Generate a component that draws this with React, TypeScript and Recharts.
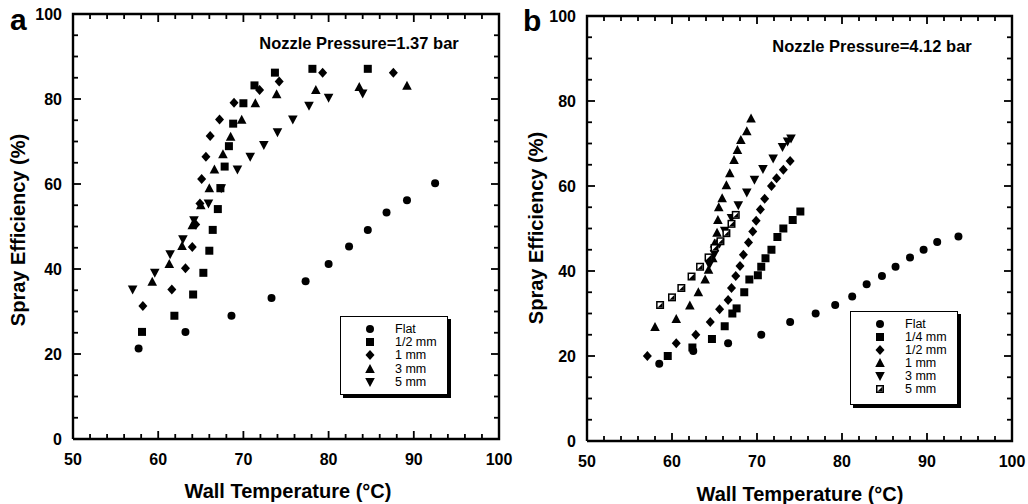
import React from 'react'
import { ScatterChart, Scatter, XAxis, YAxis } from 'recharts'

const FONT = '"Liberation Sans", Arial, Helvetica, sans-serif'

const xTicks = [50, 52, 54, 56, 58, 60, 62, 64, 66, 68, 70, 72, 74, 76, 78, 80, 82, 84, 86, 88, 90, 92, 94, 96, 98, 100]
const yTicks = [0, 5, 10, 15, 20, 25, 30, 35, 40, 45, 50, 55, 60, 65, 70, 75, 80, 85, 90, 95, 100]

// panel a: nozzle pressure 1.37 bar  [wall temp, spray efficiency]
const aFlat = [[57.7, 21.3], [63.2, 25.2], [68.6, 29], [73.3, 33.2], [77.3, 37.1], [80, 41.2], [82.4, 45.3], [84.6, 49.2], [86.8, 53.3], [89.2, 56.2], [92.5, 60.2]]
const aHalf = [[58.1, 25.2], [61.9, 29], [64.1, 34], [65.3, 39.1], [66.0, 44.3], [66.4, 49.2], [67.0, 54.1], [67.3, 59], [67.8, 64.1], [68.3, 68.9], [68.8, 74.2], [70.0, 79], [71.3, 83.2], [73.7, 86.2], [78.1, 87.1], [84.6, 87.1]]
const aOne = [[58.2, 31.3], [61.6, 35.2], [63.2, 40.2], [64.0, 45.2], [64.4, 50.5], [64.9, 55.4], [65.1, 61.2], [65.6, 66.4], [66.1, 71.3], [67.2, 75.2], [68.9, 79.1], [71.9, 82.1], [74.2, 84.1], [79.3, 86.2], [87.6, 86.2]]
const aThree = [[59.3, 37], [61.3, 41.2], [62.8, 45.4], [64.0, 50.3], [65.0, 55], [66.0, 59], [66.6, 63.4], [67.6, 67], [68.5, 71.1], [69.8, 75.1], [71.4, 79], [73.9, 81.1], [78.5, 82.1], [83.6, 82.8], [89.2, 83.1]]
const aFive = [[57.0, 35.2], [59.6, 39.1], [61.4, 43.5], [62.9, 47], [64.2, 51.5], [65.9, 55.4], [67.4, 59], [69.3, 63.4], [70.8, 66.4], [72.4, 69.2], [74.0, 72.2], [75.8, 75.2], [77.7, 78.4], [80.0, 80.3], [84.0, 81.3]]

// panel b: nozzle pressure 4.12 bar
const bFlat = [[58.5, 18.2], [62.5, 21.2], [66.6, 23], [70.5, 25], [73.9, 28], [76.9, 30], [79.2, 32], [81.2, 34], [82.9, 36.9], [84.7, 38.8], [86.3, 41], [88, 43.2], [89.6, 45], [91.2, 46.8], [93.7, 48.1]]
const bQuarter = [[59.5, 20], [62.4, 22], [64.7, 24], [66.2, 27], [67.1, 30], [67.6, 31.2], [68.5, 35], [69.1, 38], [70.1, 39], [70.5, 41], [71.0, 43], [71.7, 45], [72.4, 48], [73.1, 50], [74.2, 52], [75.1, 54]]
const bHalf = [[57.1, 20], [60.5, 23], [62.8, 25], [64.5, 28], [65.6, 31], [66.6, 33.2], [67.0, 36], [67.5, 38.8], [68.0, 41.2], [68.4, 43.8], [69.0, 46.7], [69.5, 49.3], [69.9, 51.8], [70.4, 54.5], [70.9, 57], [71.7, 60], [72.3, 61.8], [73.1, 63.8], [73.9, 65.9]]
const bOne = [[58.0, 26.8], [60.5, 28.7], [62.1, 31.9], [63.1, 35], [63.9, 38], [64.3, 40.3], [64.8, 43], [65.0, 46.5], [65.3, 49], [65.4, 52], [65.5, 55], [65.9, 57.1], [66.4, 60.2], [66.8, 63], [67.3, 66.1], [67.7, 68.5], [68.1, 70.8], [68.8, 72.9], [69.3, 75.9]]
const bThree = [[64.4, 41.5], [65.0, 44], [65.6, 46.5], [66.2, 49.5], [67.0, 52.5], [67.8, 55.5], [68.8, 58.5], [69.7, 61.5], [70.7, 64], [71.9, 66.5], [73.0, 69.2], [73.6, 70.5], [74.0, 71.2]]
const bFive = [[58.6, 32], [60.0, 33.8], [61.1, 36], [62.3, 38.7], [63.3, 41], [64.3, 43.2], [65.0, 45.4], [65.7, 47], [66.4, 48.9], [67.0, 51.1], [67.5, 53.2]]

const toPts = (arr: number[][]) => arr.map(([x, y]) => ({ x, y }))

// frame corners and tick anchors (axis furniture, placed through the chart scales)
const frameCorners = [{ x: 50, y: 0 }, { x: 100, y: 0 }, { x: 100, y: 100 }, { x: 50, y: 100 }, { x: 50, y: 0 }]
const bottomTicks = xTicks.map((v) => ({ x: v, y: 0 }))
const topTicks = xTicks.map((v) => ({ x: v, y: 100 }))
const leftTicks = yTicks.map((v) => ({ x: 50, y: v }))
const rightTicks = yTicks.map((v) => ({ x: 100, y: v }))

// marker shapes
const Dot = ({ cx, cy }: any) => <circle cx={cx} cy={cy} r={4} fill="#000" />
const Sq = ({ cx, cy }: any) => <rect x={cx - 4} y={cy - 4} width={8} height={8} fill="#000" />
const Dia = ({ cx, cy }: any) => (
    <polygon points={`${cx},${cy - 5} ${cx + 4.5},${cy} ${cx},${cy + 5} ${cx - 4.5},${cy}`} fill="#000" />
)
const TriUp = ({ cx, cy }: any) => (
    <polygon points={`${cx},${cy - 5} ${cx + 4.8},${cy + 4} ${cx - 4.8},${cy + 4}`} fill="#000" />
)
const TriDown = ({ cx, cy }: any) => (
    <polygon points={`${cx - 4.8},${cy - 4} ${cx + 4.8},${cy - 4} ${cx},${cy + 5}`} fill="#000" />
)
const HalfSq = ({ cx, cy }: any) => (
    <g>
        <rect x={cx - 4} y={cy - 4} width={8} height={8} fill="#000" />
        <rect x={cx - 2.5} y={cy - 2.5} width={5} height={5} fill="#fff" />
        <polygon points={`${cx + 2.5},${cy - 2.5} ${cx + 2.5},${cy + 2.5} ${cx - 2.5},${cy + 2.5}`} fill="#000" />
    </g>
)

// inward tick marks
const TW = 1.8
const tickLenX = (p: any) => (p.x % 10 === 0 ? 8 : 5)
const tickLenY = (p: any) => (p.y % 20 === 0 ? 8 : 5)
const BottomMark = ({ cx, cy, payload }: any) => <rect x={cx - TW / 2} y={cy - tickLenX(payload)} width={TW} height={tickLenX(payload)} fill="#000" />
const TopMark = ({ cx, cy, payload }: any) => <rect x={cx - TW / 2} y={cy} width={TW} height={tickLenX(payload)} fill="#000" />
const LeftMark = ({ cx, cy, payload }: any) => <rect x={cx} y={cy - TW / 2} width={tickLenY(payload)} height={TW} fill="#000" />
const RightMark = ({ cx, cy, payload }: any) => <rect x={cx - tickLenY(payload)} y={cy - TW / 2} width={tickLenY(payload)} height={TW} fill="#000" />
const NoMark = () => <g />

// tick labels
const BottomLabel = ({ x, y, payload }: any) =>
    payload.value % 10 === 0 ? (
        <text x={x} y={y + 26} textAnchor="middle" fontFamily={FONT} fontWeight="bold" fontSize={16} fill="#000">
            {payload.value}
        </text>
    ) : <g />
const LeftLabel = ({ x, y, payload }: any) =>
    payload.value % 20 === 0 ? (
        <text x={x - 11} y={y + 6} textAnchor="end" fontFamily={FONT} fontWeight="bold" fontSize={16} fill="#000">
            {payload.value}
        </text>
    ) : <g />

function Panel({ left, width, margin, xh, series }: any) {
    return (
        <div style={{ position: 'absolute', left, top: 0 }}>
            <ScatterChart width={width} height={504} margin={margin}>
                <XAxis dataKey="x" type="number" domain={[50, 100]} ticks={xTicks} interval={0}
                    height={xh} axisLine={false} tickLine={false} tickSize={0} tickMargin={0} tick={<BottomLabel />} />
                <YAxis dataKey="y" type="number" domain={[0, 100]} ticks={yTicks} interval={0}
                    width={73} axisLine={false} tickLine={false} tickSize={0} tickMargin={0} tick={<LeftLabel />} />
                <Scatter data={frameCorners} line={{ stroke: '#000', strokeWidth: 2.4 }} lineType="joint"
                    shape={<NoMark />} isAnimationActive={false} />
                <Scatter data={bottomTicks} shape={<BottomMark />} isAnimationActive={false} />
                <Scatter data={topTicks} shape={<TopMark />} isAnimationActive={false} />
                <Scatter data={leftTicks} shape={<LeftMark />} isAnimationActive={false} />
                <Scatter data={rightTicks} shape={<RightMark />} isAnimationActive={false} />
                {series.map((s: any, i: number) => (
                    <Scatter key={i} data={toPts(s.data)} shape={s.shape} isAnimationActive={false} />
                ))}
            </ScatterChart>
        </div>
    )
}

function LegendBox({ left, top, height, rows, step }: any) {
    return (
        <div style={{
            position: 'absolute', left, top, width: 108, height, boxSizing: 'border-box',
            border: '1.5px solid #000', boxShadow: '3px 3px 0 #000', background: '#fff'
        }}>
            {rows.map((r: any, i: number) => {
                const Shape = r.shape
                return (
                    <div key={i} style={{ position: 'absolute', top: 6 + i * step, left: 0, height: step, width: '100%' }}>
                        <svg width={14} height={14} style={{ position: 'absolute', left: 22, top: -1 }}>
                            <Shape cx={7} cy={7} />
                        </svg>
                        <span style={{
                            position: 'absolute', left: 54, top: 0, fontFamily: FONT, fontSize: 12.5,
                            lineHeight: '12px', color: '#000', whiteSpace: 'nowrap'
                        }}>{r.name}</span>
                    </div>
                )
            })}
        </div>
    )
}

const seriesA = [
    { name: 'Flat', data: aFlat, shape: Dot },
    { name: '1/2 mm', data: aHalf, shape: Sq },
    { name: '1 mm', data: aOne, shape: Dia },
    { name: '3 mm', data: aThree, shape: TriUp },
    { name: '5 mm', data: aFive, shape: TriDown },
]
const seriesB = [
    { name: 'Flat', data: bFlat, shape: Dot },
    { name: '1/4 mm', data: bQuarter, shape: Sq },
    { name: '1/2 mm', data: bHalf, shape: Dia },
    { name: '1 mm', data: bOne, shape: TriUp },
    { name: '3 mm', data: bThree, shape: TriDown },
    { name: '5 mm', data: bFive, shape: HalfSq },
]

const txt = { fontFamily: FONT, fontWeight: 'bold' as const, fill: '#000' }

export default function App() {
    return (
        <div style={{ position: 'absolute', left: 0, top: 0, width: 1028, height: 504, background: '#fff', overflow: 'hidden' }}>
            <Panel left={0} width={520} margin={{ top: 14, right: 21, left: 0, bottom: 0 }} xh={65} series={seriesA} />
            <Panel left={514} width={514} margin={{ top: 16, right: 16, left: 0, bottom: 0 }} xh={63} series={seriesB} />
            <LegendBox left={340} top={316} height={79} rows={seriesA} step={13.2} />
            <LegendBox left={850} top={311} height={94} rows={seriesB} step={12.9} />
            <svg width={1028} height={504} style={{ position: 'absolute', left: 0, top: 0, pointerEvents: 'none' }}>
                <text x={10} y={30} fontSize={30} {...txt}>a</text>
                <text x={523} y={31} fontSize={30} {...txt}>b</text>
                <text x={359} y={49} fontSize={16.5} textAnchor="middle" {...txt}>Nozzle Pressure=1.37 bar</text>
                <text x={872} y={52} fontSize={16.5} textAnchor="middle" {...txt}>Nozzle Pressure=4.12 bar</text>
                <text x={288} y={498} fontSize={20} textAnchor="middle" {...txt}>Wall Temperature (°C)</text>
                <text x={800} y={501} fontSize={20} textAnchor="middle" {...txt}>Wall Temperature (°C)</text>
                <text x={0} y={0} fontSize={20} textAnchor="middle" transform="translate(25,230) rotate(-90)" {...txt}>Spray Efficiency (%)</text>
                <text x={0} y={0} fontSize={20} textAnchor="middle" transform="translate(543,228) rotate(-90)" {...txt}>Spray Efficiency (%)</text>
            </svg>
        </div>
    )
}
